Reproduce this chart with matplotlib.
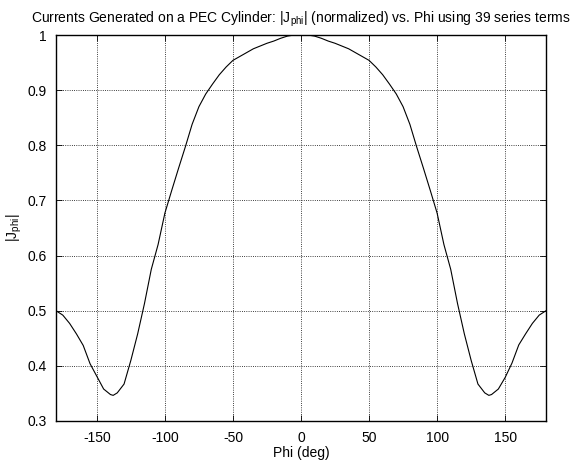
import matplotlib
matplotlib.use("Agg")
import matplotlib.pyplot as plt
from matplotlib.ticker import FuncFormatter

plt.rcParams['font.family'] = ['Liberation Sans', 'DejaVu Sans']
plt.rcParams['mathtext.fontset'] = 'custom'
plt.rcParams['mathtext.rm'] = 'Liberation Sans'
plt.rcParams['mathtext.it'] = 'Liberation Sans'
plt.rcParams['axes.unicode_minus'] = False

phi_deg = [-180, -175, -170, -165, -160, -155, -150, -145, -140, -138, -135, -130,
           -125, -120, -115, -110, -105, -100, -95, -90, -85, -80, -75, -70, -65,
           -60, -55, -50, -45, -40, -35, -30, -25, -20, -15, -10, -5, 0,
           5, 10, 15, 20, 25, 30, 35, 40, 45, 50, 55, 60, 65, 70, 75, 80, 85,
           90, 95, 100, 105, 110, 115, 120, 125, 130, 135, 138, 140, 145, 150,
           155, 160, 165, 170, 175, 180]
j_phi = [0.500, 0.492, 0.477, 0.458, 0.437, 0.404, 0.381, 0.358, 0.348, 0.3465, 0.351, 0.367,
         0.410, 0.458, 0.513, 0.575, 0.620, 0.677, 0.718, 0.758, 0.797, 0.838, 0.870, 0.893, 0.911,
         0.928, 0.942, 0.954, 0.961, 0.968, 0.975, 0.980, 0.985, 0.989, 0.994, 0.998, 1.000, 1.000,
         1.000, 0.998, 0.994, 0.989, 0.985, 0.980, 0.975, 0.968, 0.961, 0.954, 0.942, 0.928, 0.911,
         0.893, 0.870, 0.838, 0.797, 0.758, 0.718, 0.677, 0.620, 0.575, 0.513, 0.458, 0.410,
         0.367, 0.351, 0.3465, 0.348, 0.358, 0.379, 0.405, 0.438, 0.458, 0.477, 0.492, 0.500]

x_ticks = [-150, -100, -50, 0, 50, 100, 150]
y_ticks = [0.3, 0.4, 0.5, 0.6, 0.7, 0.8, 0.9, 1.0]

fig = plt.figure(figsize=(5.85, 4.66), dpi=100)
ax = fig.add_axes([56/585, 1-421/466, (546-56)/585, (421-35)/466])
ax.plot(phi_deg, j_phi, color='black', linewidth=0.8)
ax.set_xlim(-180, 180)
ax.set_ylim(0.3, 1.0)
ax.set_xticks(x_ticks)
ax.set_yticks(y_ticks)
ax.yaxis.set_major_formatter(FuncFormatter(lambda v, p: ('%g' % round(v, 2))))
ax.grid(True, color='black', linestyle=':', linewidth=0.6)
ax.tick_params(direction='in', length=4, width=0.6, labelsize=10, top=True, right=True, pad=7)
for s in ax.spines.values():
    s.set_linewidth(1.0)
ax.set_xlabel('Phi (deg)', fontsize=10, labelpad=1)
ax.set_ylabel(r'|J$_{\mathrm{phi}}$|', fontsize=10, labelpad=2)
ax.set_title(r'Currents Generated on a PEC Cylinder: |J$_{\mathrm{phi}}$| (normalized) vs. Phi using 39 series terms',
             fontsize=10, pad=9)
fig.savefig('out.png', dpi=100)
